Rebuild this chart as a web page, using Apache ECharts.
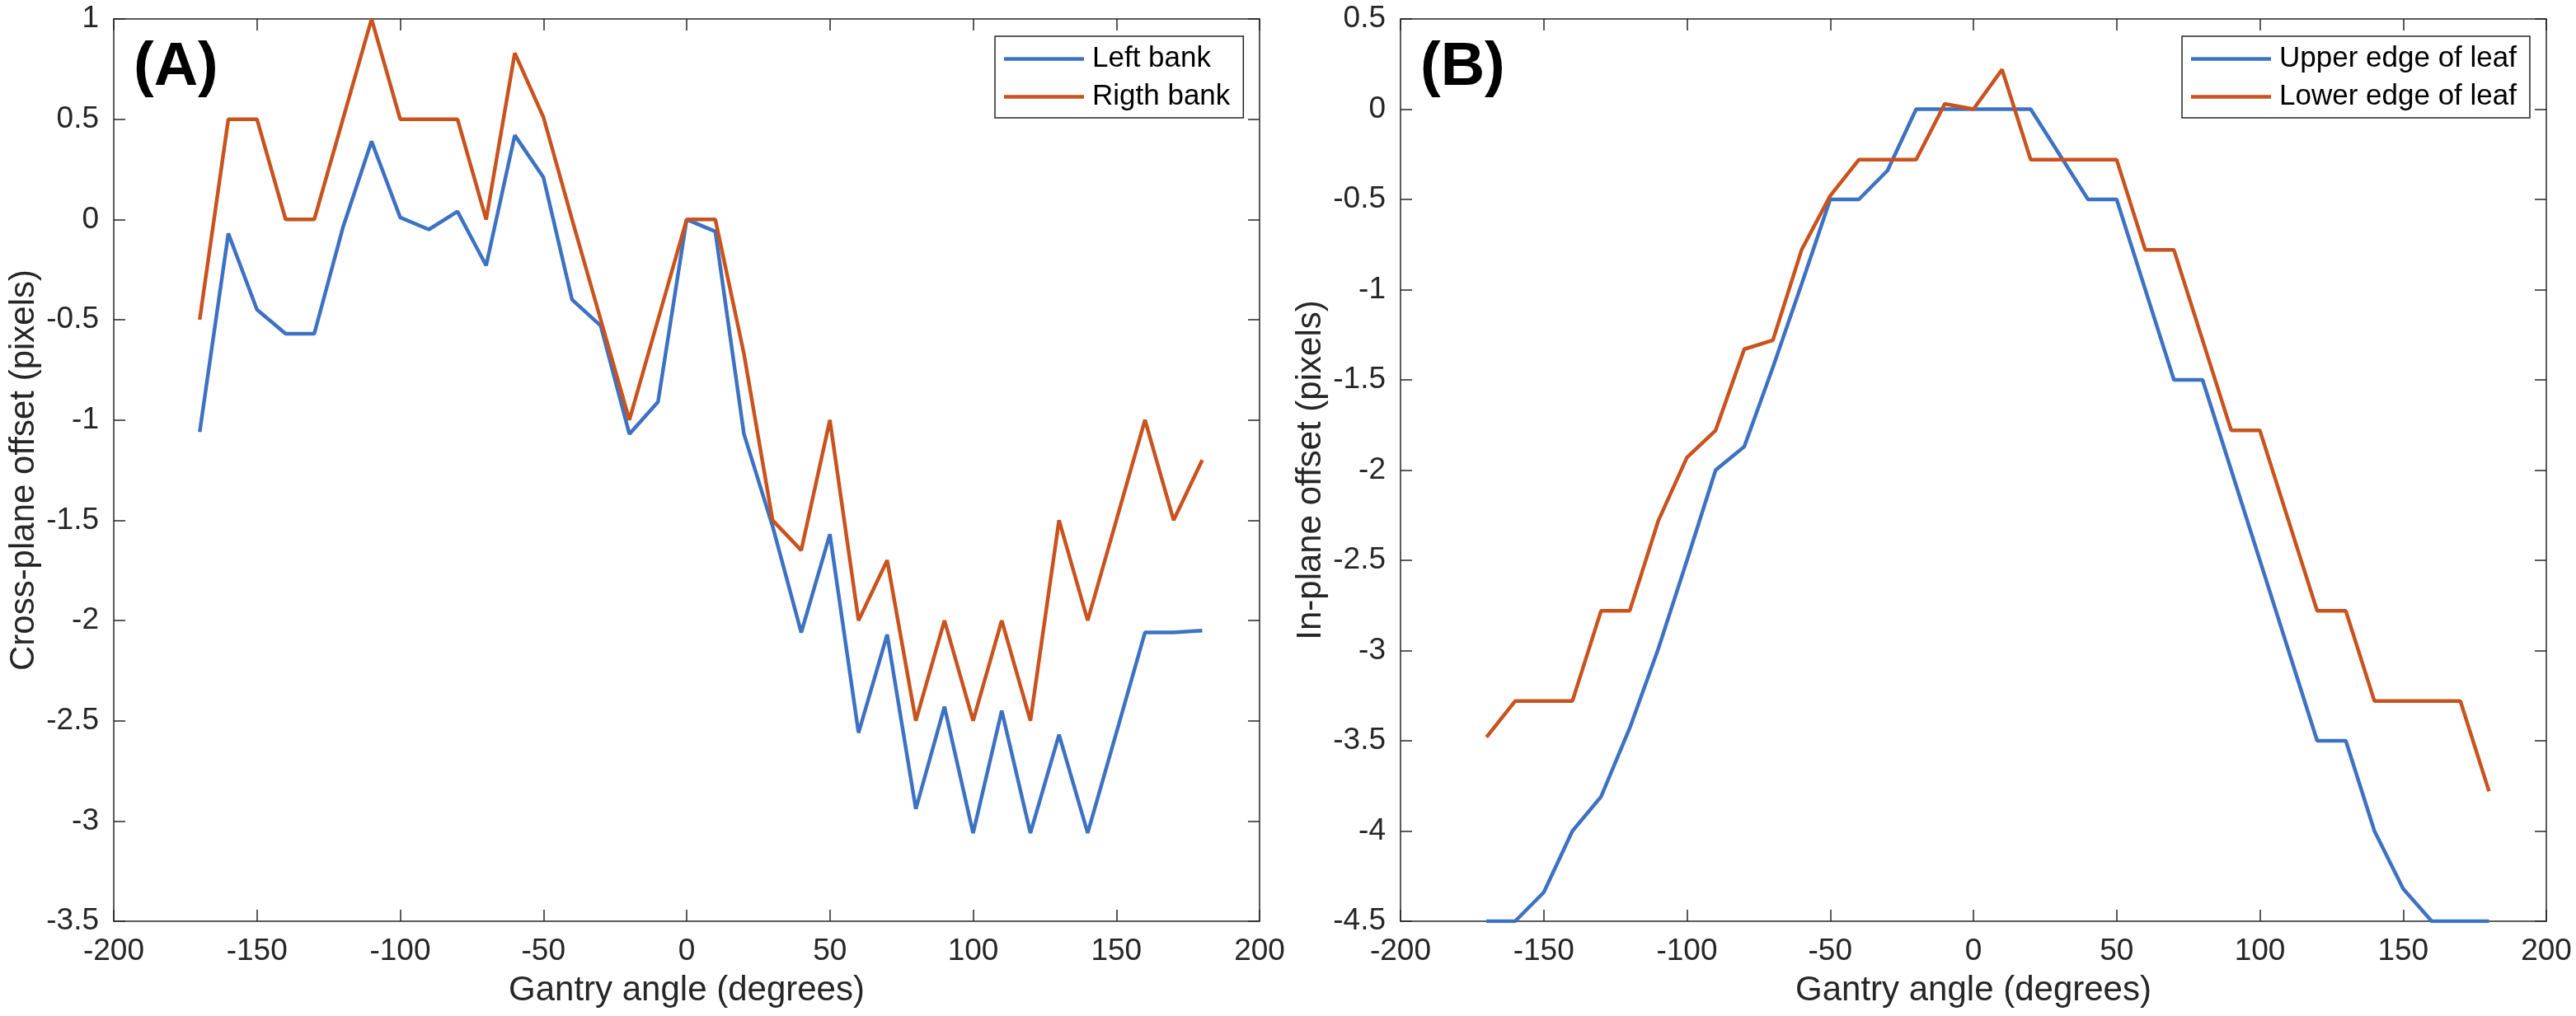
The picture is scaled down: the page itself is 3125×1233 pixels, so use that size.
<!DOCTYPE html>
<html>
<head>
<meta charset="utf-8">
<script src="https://cdn.jsdelivr.net/npm/echarts@6/dist/echarts.min.js"></script>
<style>
  html, body { margin: 0; padding: 0; background: #fff; }
  #main { width: 3125px; height: 1233px; }
</style>
</head>
<body>
<div id="main"></div>
<script>
var myChart = echarts.init(document.getElementById('main'));

// gantry angles (degrees)
var angles = [-170, -160, -150, -140, -130, -120, -110, -100, -90, -80, -70, -60,
  -50, -40, -30, -20, -10, 0, 10, 20, 30, 40, 50, 60,
  70, 80, 90, 100, 110, 120, 130, 140, 150, 160, 170, 180];

// (A) cross-plane offset
var leftBank = [-1.06, -0.07, -0.45, -0.57, -0.57, -0.04, 0.39, 0.01, -0.05, 0.04, -0.23, 0.42,
  0.21, -0.40, -0.53, -1.07, -0.91, 0.0, -0.06, -1.07, -1.53, -2.06, -1.57, -2.56,
  -2.07, -2.94, -2.43, -3.06, -2.45, -3.06, -2.57, -3.06, -2.56, -2.06, -2.06, -2.05];
var rightBank = [-0.5, 0.5, 0.5, 0, 0, 0.5, 1.0, 0.5, 0.5, 0.5, 0, 0.83,
  0.51, 0, -0.5, -1.0, -0.5, 0, 0, -0.67, -1.5, -1.65, -1.0, -2.0,
  -1.7, -2.5, -2.0, -2.5, -2.0, -2.5, -1.5, -2.0, -1.5, -1.0, -1.5, -1.2];

// (B) in-plane offset
var upperEdge = [-4.5, -4.5, -4.34, -4.0, -3.81, -3.43, -2.99, -2.5, -2.0, -1.87, -1.43, -0.97,
  -0.5, -0.5, -0.34, 0, 0, 0, 0, 0, -0.25, -0.5, -0.5, -1.0,
  -1.5, -1.5, -2.0, -2.5, -3.0, -3.5, -3.5, -4.0, -4.32, -4.5, -4.5, -4.5];
var lowerEdge = [-3.48, -3.28, -3.28, -3.28, -2.78, -2.78, -2.28, -1.93, -1.78, -1.33, -1.28, -0.78,
  -0.48, -0.28, -0.28, -0.28, 0.03, 0, 0.22, -0.28, -0.28, -0.28, -0.28, -0.78,
  -0.78, -1.28, -1.78, -1.78, -2.28, -2.78, -2.78, -3.28, -3.28, -3.28, -3.28, -3.78];

var xTicks = [-200, -150, -100, -50, 0, 50, 100, 150, 200];
var yTicksA = [-3.5, -3, -2.5, -2, -1.5, -1, -0.5, 0, 0.5, 1];
var yTicksB = [-4.5, -4, -3.5, -3, -2.5, -2, -1.5, -1, -0.5, 0, 0.5];

var BLUE = '#3D72C2';
var RED = '#C9531F';
var AX = '#262626';
var FONT = 'Liberation Sans';

function pairs(xs, ys) {
  return xs.map(function (x, i) { return [x, ys[i]]; });
}

function xAxisFor(grid, bottom) {
  return {
    type: 'value', gridIndex: grid, position: bottom ? 'bottom' : 'top',
    min: xTicks[0], max: xTicks[xTicks.length - 1], interval: 50,
    name: bottom ? 'Gantry angle (degrees)' : '',
    nameLocation: 'middle', nameGap: 63,
    nameTextStyle: { fontSize: 42, color: AX, fontFamily: FONT },
    axisLine: { show: true, onZero: false, lineStyle: { color: AX, width: 1.5 } },
    axisTick: { show: true, inside: true, length: 14, lineStyle: { color: AX, width: 1.5 } },
    axisLabel: { show: bottom, fontSize: 37, color: AX, fontFamily: FONT, margin: 18 },
    splitLine: { show: false }
  };
}

function yAxisFor(grid, left, ticks, title) {
  return {
    type: 'value', gridIndex: grid, position: left ? 'left' : 'right',
    min: ticks[0], max: ticks[ticks.length - 1], interval: 0.5,
    name: left ? title : '',
    nameLocation: 'middle', nameGap: 88, nameRotate: 90,
    nameTextStyle: { fontSize: 42, color: AX, fontFamily: FONT },
    axisLine: { show: true, onZero: false, lineStyle: { color: AX, width: 1.5 } },
    axisTick: { show: true, inside: true, length: 14, lineStyle: { color: AX, width: 1.5 } },
    axisLabel: { show: left, fontSize: 37, color: AX, fontFamily: FONT, margin: 18 },
    splitLine: { show: false }
  };
}

function lineSeries(name, xi, yi, ys, color) {
  return {
    name: name, type: 'line', xAxisIndex: xi, yAxisIndex: yi,
    data: pairs(angles, ys),
    showSymbol: false, symbol: 'none', color: color,
    lineStyle: { width: 4.5, color: color },
    animation: false
  };
}

function legendFor(names, left) {
  return {
    data: names, orient: 'vertical', left: left, top: 44,
    backgroundColor: '#fff', borderColor: AX, borderWidth: 1.5,
    padding: [10, 16, 8, 11], itemGap: 11,
    icon: 'rect', itemWidth: 97, itemHeight: 4.5,
    textStyle: { fontSize: 35, color: '#000', fontFamily: FONT, padding: [0, 0, 0, 5] }
  };
}

var option = {
  backgroundColor: '#fff',
  animation: false,
  title: [
    { text: '(A)', left: 162, top: 46, padding: 0,
      textStyle: { fontSize: 74, fontWeight: 'bold', color: '#000', fontFamily: FONT } },
    { text: '(B)', left: 1723, top: 46, padding: 0,
      textStyle: { fontSize: 74, fontWeight: 'bold', color: '#000', fontFamily: FONT } }
  ],
  legend: [
    legendFor(['Left bank', 'Rigth bank'], 1207),
    legendFor(['Upper edge of leaf', 'Lower edge of leaf'], 2647)
  ],
  grid: [
    { left: 138, top: 23, width: 1390, height: 1095 },
    { left: 1699, top: 23, width: 1390, height: 1095 }
  ],
  xAxis: [xAxisFor(0, true), xAxisFor(0, false), xAxisFor(1, true), xAxisFor(1, false)],
  yAxis: [
    yAxisFor(0, true, yTicksA, 'Cross-plane offset (pixels)'),
    yAxisFor(0, false, yTicksA, ''),
    yAxisFor(1, true, yTicksB, 'In-plane offset (pixels)'),
    yAxisFor(1, false, yTicksB, '')
  ],
  series: [
    lineSeries('Left bank', 0, 0, leftBank, BLUE),
    lineSeries('Rigth bank', 0, 0, rightBank, RED),
    lineSeries('Upper edge of leaf', 2, 2, upperEdge, BLUE),
    lineSeries('Lower edge of leaf', 2, 2, lowerEdge, RED)
  ]
};

myChart.setOption(option);
window.onresize = myChart.resize;
</script>
</body>
</html>
